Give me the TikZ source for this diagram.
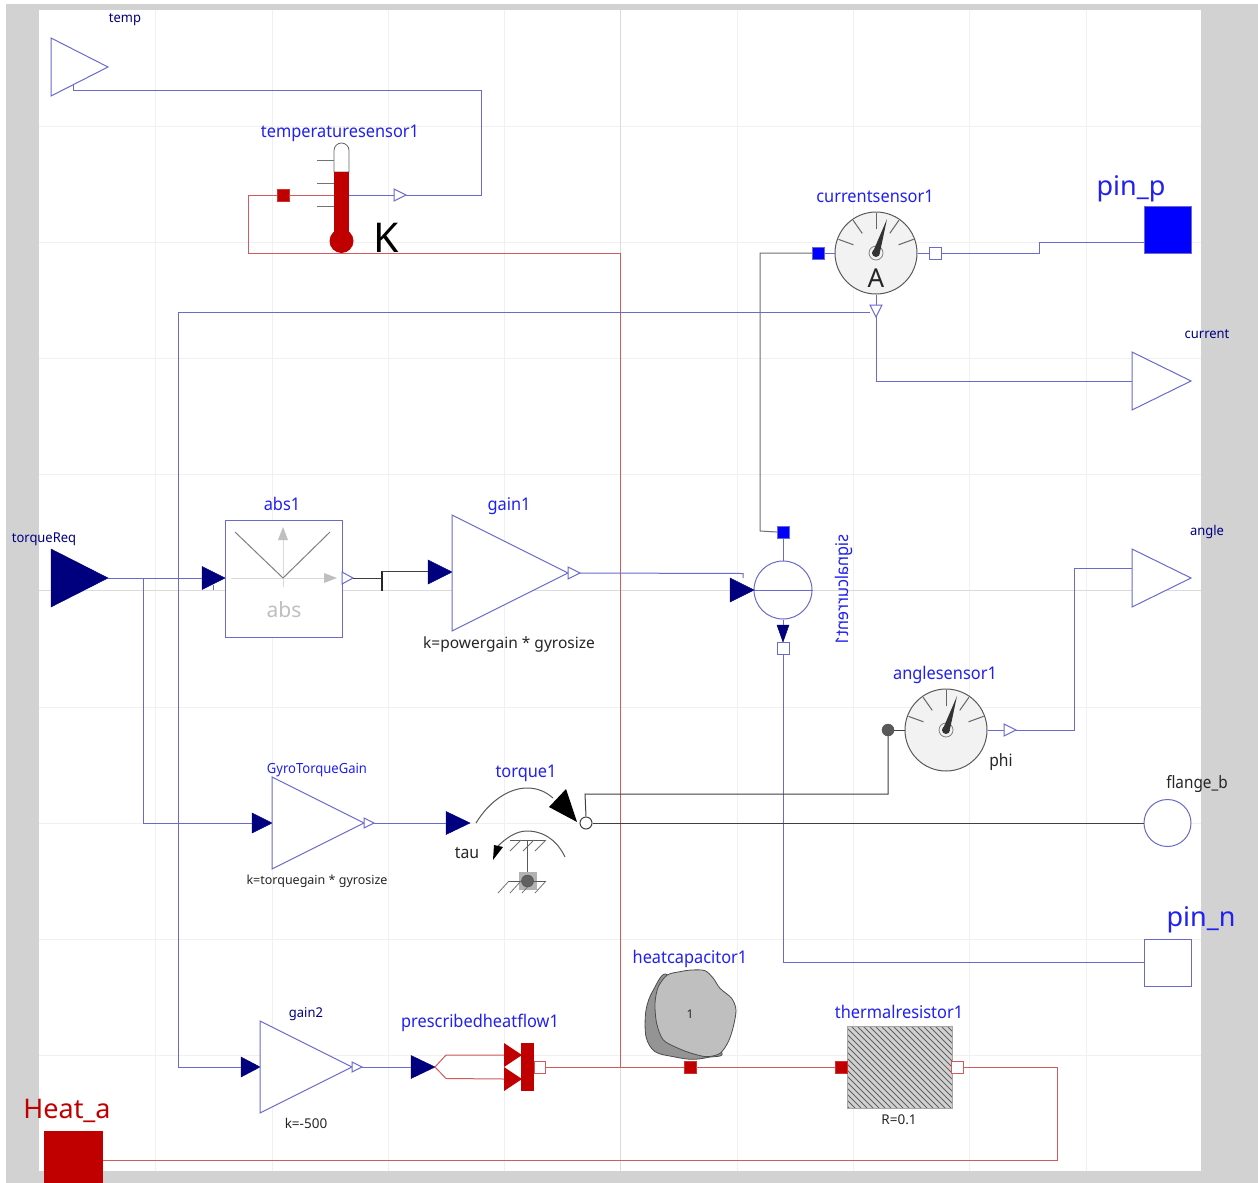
\documentclass[tikz,border=0pt]{standalone}
\usepackage{fontspec}
\setmainfont{Noto Sans}
\usetikzlibrary{calc}
\definecolor{wireblue}{HTML}{6A6ACB}
\definecolor{wirered}{HTML}{D25A5C}
\definecolor{wiregray}{HTML}{707070}
\definecolor{navyfill}{HTML}{00007F}
\definecolor{heatred}{HTML}{C00000}
\definecolor{lblblue}{HTML}{2020F0}
\definecolor{puregblue}{HTML}{0000FF}
\definecolor{framegray}{HTML}{D2D2D2}
\tikzset{
  wb/.style={draw=wireblue,line width=1pt},
  wr/.style={draw=wirered,line width=1pt},
  wg/.style={draw=wiregray,line width=1pt},
  wk/.style={draw=black!75,line width=1pt},
  outtri/.style={draw=wireblue,fill=white,line width=1pt,line join=miter},
  intri/.style={draw=navyfill,fill=navyfill,line width=.5pt},
  bigtri/.style={draw=wireblue,fill=white,line width=1pt},
  lab/.style={text=lblblue,inner sep=0pt,xscale=.935,yshift=-2pt,text height=13pt,text depth=4pt,font=\fontsize{17.5}{20}\selectfont},
  biglab/.style={inner sep=0pt,yshift=-2pt,text height=20pt,text depth=6pt,font=\fontsize{27}{30}\selectfont},
  smlab/.style={text=navyfill,inner sep=0pt,xscale=.96,yshift=-2pt,text height=10pt,text depth=3pt,font=\fontsize{13.5}{16}\selectfont},
  par/.style={text=black!85,inner sep=0pt,yshift=-1pt,text height=11pt,text depth=3pt,font=\fontsize{15.5}{17}\selectfont},
  bluep/.style={draw=wireblue,fill=puregblue,minimum size=12pt,inner sep=0pt},
  whitep/.style={draw=wireblue,line width=1pt,fill=white,minimum size=12pt,inner sep=0pt},
  redp/.style={draw=heatred!80,fill=heatred,minimum size=12pt,inner sep=0pt},
  whiter/.style={draw=wirered,line width=1pt,fill=white,minimum size=12pt,inner sep=0pt},
  gauge/.style={draw=black!65,fill=black!5,line width=1pt},
  tick/.style={draw=black!60,line width=1pt},
  gridl/.style={draw=black!6,line width=1pt},
  gridm/.style={draw=black!14,line width=1pt},
}
% triangle pointing right: style, name, base x, centre y, length, half height
\newcommand{\tri}[6]{%
  \coordinate (#2-in) at (#3,#4);
  \coordinate (#2-out) at ($(#3,#4)+(#5,0)$);
  \draw[#1] (#3,#4) ++(0,-#6) -- ++(#5,#6) -- ++(-#5,#6) -- cycle;
}
% dial instrument: name, centre x, centre y
\newcommand{\dial}[3]{%
  \node[circle,gauge,minimum size=82pt,inner sep=0pt] (#1) at (#2,#3) {};
  \begin{scope}[shift={(#1.center)},y=1pt]
    \foreach \a in {20,55,90,125,160}{\draw[tick] (\a:24) -- (\a:40);}
    \draw[black!50,line width=.8pt] (0,0) circle (7);
    \fill[black!80] (-4,-1) -- (11,34) -- (4,1) -- cycle;
    \fill[black!80] (0,0) circle (4);
  \end{scope}
}
\begin{document}
\begin{tikzpicture}[x=1pt,y=-1pt]
\useasboundingbox (0,0) rectangle (1258,1183);
\fill[white] (0,0) rectangle (1258,1183);
\fill[framegray] (6,4) rectangle (1258,1183);
\fill[white] (39,10) rectangle (1201,1171);
% grid
\foreach \x in {155,272,388,504,737,853,969,1086}{\draw[gridl] (\x,10) -- (\x,1171);}
\foreach \y in {126,242,358,474,707,823,939,1055}{\draw[gridl] (39,\y) -- (1201,\y);}
\draw[gridm] (620,10) -- (620,1171);
\draw[gridm] (39,590) -- (1201,590);

% ---------- ports and blocks
\tri{bigtri}{temp}{51}{67}{57}{29}
\coordinate (temp-tap) at (73,85);
\node[smlab] (temp-l) at (125,17.5) {temp};

% temperature sensor
\node[lab] (ts-l) at (340,131) {temperaturesensor1};
\foreach \y in {160,183,206.5}{\draw[draw=black!55,line width=1pt] (317,\y) -- (334,\y);}
\draw[draw=black!60,fill=white,line width=.8pt] (334,172) -- (334,150.5) arc[start angle=180,end angle=360,radius=7.5] -- (349,172) -- cycle;
\fill[heatred] (334,172) rectangle (349,235);
\node[circle,fill=heatred,minimum size=24pt,inner sep=0pt] (ts-bulb) at (341.5,241) {};
\coordinate (ts-in) at (334,195);
\coordinate (ts-out) at (349,195);
\node[redp] (ts-port) at (283,195) {};
\tri{outtri}{tsq}{394}{195}{12}{6}
\node[text=black,inner sep=0pt,font=\fontsize{41}{44}\selectfont] (ts-k) at (386,238) {K};

% current sensor
\node[lab] (cs-l) at (875,196) {currentsensor1};
\dial{cs}{876}{253}
\node[text=black!85,inner sep=0pt,font=\fontsize{26}{28}\selectfont] (cs-a) at (876,278) {A};
\node[bluep] (cs-p) at (818,253) {};
\node[whitep] (cs-n) at (935,253) {};
\coordinate (csq-in) at (876,305);
\coordinate (csq-tap) at (870,312);
\coordinate (csq-out) at (876,317);
\draw[outtri] (870,305) -- (882,305) -- (876,317) -- cycle;

\node[draw=wireblue,fill=puregblue,minimum size=47pt,inner sep=0pt] (pinp) at (1167.5,230) {};
\node[biglab,text=lblblue] (pinp-l) at (1131,186) {pin\_p};
\tri{bigtri}{cur}{1132}{381}{59}{29}
\node[smlab] (cur-l) at (1207,333) {current};
\tri{bigtri}{ang}{1132}{578}{59}{29}
\coordinate (ang-tap) at (1132,568);
\node[smlab] (ang-l) at (1207,530) {angle};

% torqueReq
\tri{intri}{treq}{51}{578}{57}{29}
\node[smlab] (treq-l) at (44,537) {torqueReq};

% abs block
\tri{intri}{absi}{202}{578}{23}{11.5}
\node[draw=wireblue,fill=white,line width=1pt,minimum size=117pt,inner sep=0pt] (abs) at (283.5,579) {};
\node[lab] (abs-l) at (282,504) {abs1};
\draw[draw=black!15,line width=1pt] (231,578) -- (326,578);
\draw[draw=black!15,line width=1pt] (283,587) -- (283,538);
\fill[black!25] (337,578) -- (324,573) -- (324,583) -- cycle;
\fill[black!25] (283,527) -- (278,540) -- (288,540) -- cycle;
\draw[draw=black!50,line width=1pt] (235,532) -- (283,578) -- (330,532);
\node[text=black!25,inner sep=0pt,font=\fontsize{21}{24}\selectfont] (abs-t) at (284,610) {abs};
\tri{outtri}{abso}{342}{578}{11}{6}
\coordinate (abs-tick-t) at (382,571);
\coordinate (abs-tick-b) at (382,591);

% gain1
\tri{intri}{g1i}{428}{572}{24}{12}
\tri{bigtri}{g1}{452}{573}{116}{58}
\tri{outtri}{g1o}{568}{573}{12}{6}
\node[lab] (g1-l) at (509,504) {gain1};
\node[par] (g1-k) at (509,643) {k=powergain * gyrosize};

% signal current
\node[bluep] (sc-p) at (783,532) {};
\node[circle,draw=wireblue,fill=white,line width=1pt,minimum size=58pt,inner sep=0pt] (sc) at (783,590) {};
\draw[wb] (sc.west) -- (sc.east);
\tri{intri}{sci}{730}{590}{24}{12}
\draw[intri] (777,625) -- (789,625) -- (783,642) -- cycle;
\node[whitep] (sc-n) at (783,648) {};
\node[text=lblblue,inner sep=0pt,rotate=90,xscale=-.935,font=\fontsize{17.5}{20}\selectfont] (sc-l) at (843.5,590) {signalcurrent1};

% angle sensor
\node[lab] (as-l) at (945,673) {anglesensor1};
\dial{as}{946}{730}
\node[par,xscale=.92,yshift=-1pt,font=\fontsize{17}{20}\selectfont] (as-phi) at (1001,760) {phi};
\node[circle,draw=black!70,fill=black!65,minimum size=12pt,inner sep=0pt] (as-p) at (888,730) {};
\tri{outtri}{asq}{1004}{730}{12}{6}

% flange
\node[circle,draw=wireblue,fill=white,line width=1pt,minimum size=47pt,inner sep=0pt] (fb) at (1167.5,823) {};
\node[par,xscale=.9,yshift=-1pt,font=\fontsize{17}{20}\selectfont] (fb-l) at (1197,782) {flange\_b};

% gyro gain
\tri{intri}{ggi}{252}{823}{20}{10}
\tri{bigtri}{gg}{272}{823}{92}{46}
\tri{outtri}{ggo}{364}{823}{10}{5}
\node[text=lblblue,inner sep=0pt,xscale=.93,yshift=-2pt,text height=10pt,text depth=3pt,font=\fontsize{14}{16}\selectfont] (gg-l) at (317,768) {GyroTorqueGain};
\node[par,yshift=1pt,font=\fontsize{12.5}{15}\selectfont] (gg-k) at (317,880) {k=torquegain * gyrosize};

% torque
\node[lab] (tq-l) at (526,771) {torque1};
\tri{intri}{tqi}{446}{823}{24}{11.5}
\draw[draw=black!65,line width=1pt] (476,823) .. controls (490,800) and (510,788) .. (527,788) .. controls (538,788) and (546,792) .. (553,798);
\fill[black] (566,789) -- (577,822) -- (549,807) -- cycle;
\draw[draw=black!65,line width=1pt] (565,857) .. controls (558,842) and (545,831) .. (527,831) .. controls (516,831) and (506,838) .. (497,847);
\fill[black] (493,860) -- (503,847) -- (494,845) -- cycle;
\node[par,xscale=.93,yshift=-1pt,font=\fontsize{17}{20}\selectfont] (tq-tau) at (467,852) {tau};
\draw[draw=black!65,line width=1pt] (510,840) -- (545,840);
\foreach \x in {510,523,535}{\draw[draw=black!55,line width=.8pt] (\x,851) -- (\x+11,840);}
\draw[draw=black!65,line width=1pt] (527,840) -- (527,872);
\node[fill=black!30,minimum size=18pt,inner sep=0pt] (tq-sq) at (528,881) {};
\draw[draw=black!65,line width=.8pt] (508,881) -- (545,881);
\foreach \x in {498,510,522,535}{\draw[draw=black!55,line width=.8pt] (\x,893) -- (\x+11,881);}
\node[circle,fill=black!62,draw=black!70,minimum size=12pt,inner sep=0pt] (tq-c) at (527.5,881) {};
\node[circle,draw=black!75,fill=white,line width=1pt,minimum size=12pt,inner sep=0pt] (tq-p) at (586,823) {};

% pin n
\node[draw=wireblue,fill=white,line width=1pt,minimum size=47pt,inner sep=0pt] (pinn) at (1167.5,962.5) {};
\node[biglab,text=lblblue] (pinn-l) at (1201,917) {pin\_n};

% gain2
\tri{intri}{g2i}{241}{1067}{19}{10}
\tri{bigtri}{g2}{260}{1067}{92}{46}
\tri{outtri}{g2o}{352}{1067}{10}{5}
\node[smlab] (g2-l) at (306,1012) {gain2};
\node[par,font=\fontsize{13.5}{16}\selectfont] (g2-k) at (306,1123) {k=-500};

% prescribed heat flow
\node[lab] (ph-l) at (480,1021) {prescribedheatflow1};
\tri{intri}{phi}{411}{1067}{24}{11.5}
\coordinate (ph-up) at (504,1055);
\coordinate (ph-dn) at (504,1079);
\fill[heatred] (504,1043) -- (522,1055) -- (504,1067) -- cycle;
\fill[heatred] (504,1067) -- (522,1079) -- (504,1091) -- cycle;
\node[draw=none,fill=heatred,minimum width=13pt,minimum height=48pt,inner sep=0pt] (ph) at (527.5,1067) {};
\node[draw=wirered,line width=1pt,fill=white,minimum width=11pt,minimum height=12pt,inner sep=0pt] (ph-p) at (540,1067) {};

% heat capacitor
\node[lab] (hc-l) at (690,957) {heatcapacitor1};
\begin{scope}[shift={(620,940)},x=.3333pt,y=-.3333pt]
  \draw[draw=black!70,fill=black!42,line width=.8pt] plot[smooth cycle,tension=.55] coordinates {(142,105) (100,150) (78,210) (78,290) (105,335) (160,350) (215,358) (265,352) (305,337) (200,250)};
  \draw[draw=black!70,fill=black!25,line width=.8pt] plot[smooth cycle,tension=.5] coordinates {(142,105) (180,95) (215,90) (255,92) (280,115) (300,145) (335,175) (348,210) (340,260) (325,305) (300,340) (260,350) (215,340) (175,325) (130,300) (110,250) (105,190) (115,140)};
\end{scope}
\node[text=black!85,inner sep=0pt,font=\fontsize{12}{14}\selectfont] (hc-v) at (690,1014) {1};
\node[redp] (hc-p) at (690,1067) {};

% thermal resistor
\node[lab] (tr-l) at (899,1012) {thermalresistor1};
\node[fill=black!18,minimum width=105pt,minimum height=82pt,inner sep=0pt] (tr) at (899.5,1067) {};
\begin{scope}
  \clip (847,1026) rectangle (952,1108);
  \foreach \x in {0,6,...,192}{\draw[draw=black!62,line width=1pt] (755+\x,1026) -- (837+\x,1108);}
\end{scope}
\draw[draw=black!35,line width=.5pt] (847,1026) rectangle (952,1108);
\node[redp] (tr-p) at (841,1067) {};
\node[whiter] (tr-n) at (957,1067) {};
\node[par,font=\fontsize{13.5}{16}\selectfont] (tr-k) at (899,1119) {R=0.1};

% heat port
\node[fill=heatred,minimum width=59pt,minimum height=52pt,inner sep=0pt,anchor=north west] (heata) at (44,1131) {};
\node[biglab,text=heatred] (heata-l) at (67,1109) {Heat\_a};

% ---------- connectors
\draw[wb] (temp-tap) -- (73,90.5) -- (481,90.5) -- (481,195) -- (tsq-out);
\draw[wb] (ts-out) -- (tsq-in);
\draw[wr] (ts-port) -- (ts-in);
\draw[wr] (ts-port.west) -- (248,195) -- (248,253) -- (620,253) -- (620,1067);
\draw[wg] (cs-p.west) -- (760,253) -- (760,531) -- (sc-p.west);
\draw[wb] (cs-p.east) -- (cs.west);
\draw[wb] (cs.east) -- (cs-n.west);
\draw[wb] (cs-n.east) -- (1039,253) -- (1039,242) -- (pinp.west |- 0,242);
\draw[wb] (cs.south) -- (csq-in);
\draw[wb] (csq-out) -- (876,381) -- (cur-in);
\draw[wb] (csq-tap) -- (178,312) -- (178,1067) -- (g2i-in);
\draw[wb] (treq-out) -- (absi-in);
\draw[wb] (213,585) -- (213,590);
\draw[wb] (143,578) -- (143,823) -- (ggi-in);
\draw[wk] (abso-out) -- (382,578);
\draw[line width=1.3pt,draw=black!85] (abs-tick-t) -- (abs-tick-b);
\draw[wk] (abs-tick-t) -- (g1i-in |- abs-tick-t);
\draw[wb] (g1o-out) -- (743,573.5) -- (743,578);
\draw[wb] (sc-p.south) -- (sc.north);
\draw[wb] (sc.south) -- (783,625);
\draw[wb] (sc-n.south) -- (783,962) -- (pinn.west |- 0,962);
\draw[wb] (as.east) -- (asq-in);
\draw[wk] (as-p.east) -- (as.west);
\draw[wb] (asq-out) -- (1074,730) -- (1074,568) -- (ang-tap);
\draw[wk] (as-p.south) -- (888,794) -- (585,794) -- (tq-p.north);
\draw[wk] (tq-p.east) -- (fb.west);
\draw[wb] (ggo-out) -- (tqi-in);
\draw[wb] (g2o-out) -- (phi-in);
\draw[wr] (phi-out) -- (446,1055) -- (ph-up);
\draw[wr] (phi-out) -- (446,1078.5) -- (ph-dn);
\draw[wr] (ph-p.east) -- (hc-p.west);
\draw[wr] (hc-p.east) -- (tr-p.west);
\draw[wr] (tr-n.east) -- (1057,1067) -- (1057,1160) -- (heata.east |- 0,1160);
\end{tikzpicture}
\end{document}
